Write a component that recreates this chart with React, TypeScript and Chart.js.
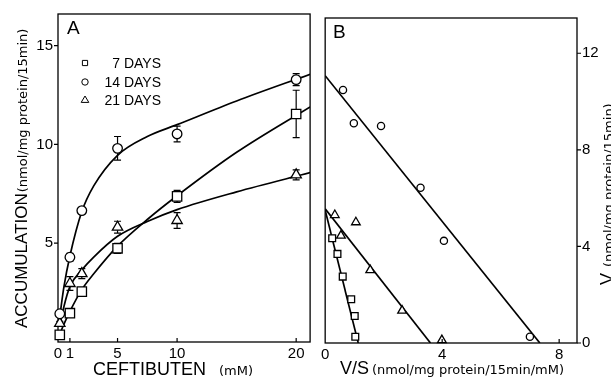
import React, { useEffect, useRef } from "react";
import { Chart, registerables } from "chart.js";

Chart.register(...registerables);

// ---------- Panel A data (ceftibuten concentration vs accumulation) ----------
const concA = [0.15, 1, 2, 5, 10, 20];
const days7 = [0.36, 1.46, 2.55, 4.74, 7.37, 11.54];
const days7Err = [0.1, 0.1, 0.2, 0.25, 0.3, 1.2];
const days14 = [1.43, 4.29, 6.65, 9.8, 10.53, 13.28];
const days14Err = [0.1, 0.2, 0.15, 0.6, 0.4, 0.3];
const days21 = [0.94, 2.96, 3.46, 5.81, 6.15, 8.46];
const days21Err = [0.1, 0.35, 0.25, 0.3, 0.4, 0.25];

// fitted curves
const fitX = [0.15, 0.5, 1, 2, 3, 5, 7.5, 10, 15, 21.17];
const fit7 = [0.4, 0.9, 1.55, 2.65, 3.45, 4.85, 6.2, 7.4, 9.6, 11.9];
const fit14 = [1.3, 2.8, 4.35, 6.6, 7.9, 9.45, 10.4, 11.0, 12.2, 13.55];
const fit21 = [0.8, 1.8, 2.8, 3.65, 4.3, 5.35, 6.1, 6.7, 7.6, 8.57];

const xTicksA = [0, 1, 5, 10, 20];
const yTicksA = [5, 10, 15];

// ---------- Panel B data (Eadie-Hofstee: V/S vs V) ----------
const bx7 = [0.24, 0.42, 0.6, 0.89, 1.01, 1.03];
const bv7 = [4.34, 3.69, 2.75, 1.81, 1.12, 0.26];
const bx14 = [0.61, 0.98, 1.91, 3.26, 4.06, 7.0];
const bv14 = [10.48, 9.1, 8.99, 6.43, 4.23, 0.26];
const bx21 = [0.33, 0.54, 1.05, 1.54, 2.63, 3.99];
const bv21 = [5.3, 4.45, 5.0, 3.02, 1.34, 0.12];

const line7X = [0, 1.13];
const line7V = [5.5, 0];
const line14X = [0, 7.34];
const line14V = [11.07, 0];
const line21X = [0, 3.6];
const line21V = [5.56, 0];

const xTicksB = [0, 4, 8];
const yTicksB = [0, 4, 8, 12];

const seriesLabels = ["7 DAYS", "14 DAYS", "21 DAYS"];

const SANS = "'Liberation Sans', Arial, sans-serif";
const WIDE = "'DejaVu Sans', sans-serif";

const pts = (xs: number[], ys: number[]) => xs.map((x, i) => ({ x, y: ys[i] }));

function drawMarker(ctx: CanvasRenderingContext2D, style: string, x: number, y: number, r: number) {
  ctx.beginPath();
  if (style === "rect") {
    ctx.rect(x - r, y - r, 2 * r, 2 * r);
  } else if (style === "circle") {
    ctx.arc(x, y, r, 0, Math.PI * 2);
  } else {
    ctx.moveTo(x, y - r);
    ctx.lineTo(x + r * 0.95, y + r * 0.6);
    ctx.lineTo(x - r * 0.95, y + r * 0.6);
    ctx.closePath();
  }
  ctx.fillStyle = "#fff";
  ctx.fill();
  ctx.stroke();
}

function drawParts(
  ctx: CanvasRenderingContext2D,
  x: number,
  y: number,
  rotate: boolean,
  parts: [string, string, number][]
) {
  ctx.save();
  ctx.translate(x, y);
  if (rotate) ctx.rotate(-Math.PI / 2);
  ctx.fillStyle = "#000";
  ctx.textBaseline = "alphabetic";
  ctx.textAlign = "left";
  let cx = 0;
  for (const [t, f, gap] of parts) {
    cx += gap;
    ctx.font = f;
    ctx.fillText(t, cx, 0);
    cx += ctx.measureText(t).width;
  }
  ctx.restore();
}

const errorBars = {
  id: "errorBars",
  beforeDatasetsDraw(chart: any) {
    const ctx = chart.ctx;
    const xs = chart.scales.x;
    const ys = chart.scales.y;
    const a = chart.chartArea;
    // frame
    ctx.save();
    ctx.strokeStyle = "#000";
    ctx.lineWidth = 1.3;
    ctx.strokeRect(a.left, a.top, a.right - a.left, a.bottom - a.top);
    ctx.restore();
    chart.data.datasets.forEach((ds: any) => {
      if (!ds.errors) return;
      ctx.save();
      ctx.strokeStyle = "#000";
      ctx.lineWidth = 1.2;
      ds.data.forEach((p: any, i: number) => {
        const e = ds.errors[i];
        if (!e) return;
        const px = xs.getPixelForValue(p.x);
        const top = ys.getPixelForValue(p.y + e);
        const bot = ys.getPixelForValue(p.y - e);
        ctx.beginPath();
        ctx.moveTo(px, top);
        ctx.lineTo(px, bot);
        ctx.moveTo(px - 3.5, top);
        ctx.lineTo(px + 3.5, top);
        ctx.moveTo(px - 3.5, bot);
        ctx.lineTo(px + 3.5, bot);
        ctx.stroke();
      });
      ctx.restore();
    });
  },
};

function tickMarks(chart: any, xInside: number[], yOut: number[], yRight: boolean) {
  const ctx = chart.ctx;
  const xs = chart.scales.x;
  const ys = chart.scales.y;
  const a = chart.chartArea;
  ctx.save();
  ctx.strokeStyle = "#000";
  ctx.lineWidth = 1.2;
  ctx.beginPath();
  for (const v of xInside) {
    const px = xs.getPixelForValue(v);
    ctx.moveTo(px, a.bottom);
    ctx.lineTo(px, a.bottom - 4);
  }
  for (const v of yOut) {
    const py = ys.getPixelForValue(v);
    if (yRight) {
      ctx.moveTo(a.right, py);
      ctx.lineTo(a.right + 4, py);
    } else {
      ctx.moveTo(a.left, py);
      ctx.lineTo(a.left - 4, py);
    }
  }
  ctx.stroke();
  ctx.restore();
}

const pointStyles = ["rect", "circle", "triangle"];

export default function App() {
  const refA = useRef<HTMLCanvasElement>(null);
  const refB = useRef<HTMLCanvasElement>(null);

  useEffect(() => {
    Chart.defaults.font.family = SANS;
    Chart.defaults.color = "#000";

    const pointDs = (label: string, data: any[], style: string, r: number, errors?: number[]) => ({
      label,
      type: "scatter" as const,
      data,
      pointStyle: style,
      pointRadius: r,
      pointHoverRadius: r,
      pointBorderWidth: 1.3,
      borderColor: "#000",
      backgroundColor: "#fff",
      pointBackgroundColor: "#fff",
      pointBorderColor: "#000",
      showLine: false,
      clip: false as any,
      errors,
    });
    const lineDs = (label: string, data: any[], curved: boolean) => ({
      label,
      type: "line" as const,
      data,
      pointRadius: 0,
      borderColor: "#000",
      borderWidth: 1.7,
      fill: false,
      cubicInterpolationMode: curved ? ("monotone" as const) : ("default" as const),
      tension: 0,
    });

    const tickFont = { family: SANS, size: 15 };

    const chartA = new Chart(refA.current!, {
      type: "scatter",
      data: {
        datasets: [
          pointDs(seriesLabels[0], pts(concA, days7), "rect", 6.6, days7Err),
          pointDs(seriesLabels[1], pts(concA, days14), "circle", 4.8, days14Err),
          pointDs(seriesLabels[2], pts(concA, days21), "triangle", 6, days21Err),
          lineDs("fit 7", pts(fitX, fit7), true),
          lineDs("fit 14", pts(fitX, fit14), true),
          lineDs("fit 21", pts(fitX, fit21), true),
        ] as any,
      },
      options: {
        responsive: false,
        animation: false,
        layout: { padding: { left: 0, top: 14, right: 6, bottom: 0 } },
        plugins: {
          legend: { display: false },
          tooltip: { enabled: false },
        },
        scales: {
          x: {
            type: "linear",
            min: 0,
            max: 21.17,
            grid: { display: false, drawTicks: false },
            border: { display: false },
            afterBuildTicks: (s: any) => {
              s.ticks = xTicksA.map((v) => ({ value: v }));
            },
            afterFit: (s: any) => {
              s.height = 41;
            },
            ticks: { font: tickFont, color: "#000", padding: 3, maxRotation: 0, autoSkip: false },
          },
          y: {
            type: "linear",
            min: 0,
            max: 16.6,
            grid: { display: false, drawTicks: false },
            border: { display: false },
            afterBuildTicks: (s: any) => {
              s.ticks = yTicksA.map((v) => ({ value: v }));
            },
            afterFit: (s: any) => {
              s.width = 58;
            },
            ticks: { font: tickFont, color: "#000", padding: 5 },
          },
        },
      },
      plugins: [
        errorBars,
        {
          id: "decorA",
          afterDraw(chart: any) {
            const ctx = chart.ctx;
            tickMarks(chart, xTicksA.filter((v) => v > 0), yTicksA, false);
            // panel letter
            drawParts(ctx, 67, 34, false, [["A", `19px ${SANS}`, 0]]);
            // legend
            ctx.save();
            ctx.strokeStyle = "#000";
            ctx.lineWidth = 1;
            const rows = [63, 82, 100];
            const sizes = [2.6, 3.2, 4];
            for (let i = 0; i < 3; i++) {
              drawMarker(ctx, pointStyles[i], 85, rows[i], sizes[i]);
              ctx.fillStyle = "#000";
              ctx.font = `14px ${SANS}`;
              ctx.textAlign = "right";
              ctx.textBaseline = "middle";
              ctx.fillText(chart.data.datasets[i].label, 161, rows[i] + 1);
            }
            ctx.restore();
            // axis titles
            drawParts(ctx, 27, 328, true, [
              ["ACCUMULATION", `17px ${SANS}`, 0],
              ["(nmol/mg protein/15min)", `13px ${WIDE}`, 1],
            ]);
            drawParts(ctx, 93, 375, false, [
              ["CEFTIBUTEN", `18px ${SANS}`, 0],
              ["(mM)", `13px ${WIDE}`, 13],
            ]);
          },
        },
      ],
    });

    const chartB = new Chart(refB.current!, {
      type: "scatter",
      data: {
        datasets: [
          pointDs(seriesLabels[0], pts(bx7, bv7), "rect", 4.8),
          pointDs(seriesLabels[1], pts(bx14, bv14), "circle", 3.6),
          pointDs(seriesLabels[2], pts(bx21, bv21), "triangle", 5),
          lineDs("line 7", pts(line7X, line7V), false),
          lineDs("line 14", pts(line14X, line14V), false),
          lineDs("line 21", pts(line21X, line21V), false),
        ] as any,
      },
      options: {
        responsive: false,
        animation: false,
        layout: { padding: { left: 5, top: 18, right: 0, bottom: 0 } },
        plugins: {
          legend: { display: false },
          tooltip: { enabled: false },
        },
        scales: {
          x: {
            type: "linear",
            min: 0,
            max: 8.61,
            grid: { display: false, drawTicks: false },
            border: { display: false },
            afterBuildTicks: (s: any) => {
              s.ticks = xTicksB.map((v) => ({ value: v }));
            },
            afterFit: (s: any) => {
              s.height = 40;
            },
            ticks: { font: tickFont, color: "#000", padding: 3, maxRotation: 0, autoSkip: false },
          },
          y: {
            type: "linear",
            position: "right",
            min: 0,
            max: 13.46,
            grid: { display: false, drawTicks: false },
            border: { display: false },
            afterBuildTicks: (s: any) => {
              s.ticks = yTicksB.map((v) => ({ value: v }));
            },
            afterFit: (s: any) => {
              s.width = 34;
            },
            ticks: { font: tickFont, color: "#000", padding: 5 },
          },
        },
      },
      plugins: [
        errorBars,
        {
          id: "decorB",
          afterDraw(chart: any) {
            const ctx = chart.ctx;
            tickMarks(chart, xTicksB.filter((v) => v > 0), yTicksB, true);
            drawParts(ctx, 15, 38, false, [["B", `19px ${SANS}`, 0]]);
            drawParts(ctx, 22, 374, false, [
              ["V/S", `18px ${SANS}`, 0],
              ["(nmol/mg protein/15min/mM)", `13px ${WIDE}`, 3],
            ]);
            drawParts(ctx, 295, 285, true, [
              ["V", `18px ${SANS}`, 0],
              ["(nmol/mg protein/15min)", `13px ${WIDE}`, 6],
            ]);
          },
        },
      ],
    });

    return () => {
      chartA.destroy();
      chartB.destroy();
    };
  }, []);

  return (
    <div
      style={{
        position: "fixed",
        left: 0,
        top: 0,
        width: 611,
        height: 383,
        background: "#fff",
        overflow: "hidden",
      }}
    >
      <canvas
        ref={refA}
        width={318}
        height={383}
        style={{ position: "absolute", left: 0, top: 0, width: 318, height: 383 }}
      />
      <canvas
        ref={refB}
        width={293}
        height={383}
        style={{ position: "absolute", left: 318, top: 0, width: 293, height: 383 }}
      />
    </div>
  );
}
